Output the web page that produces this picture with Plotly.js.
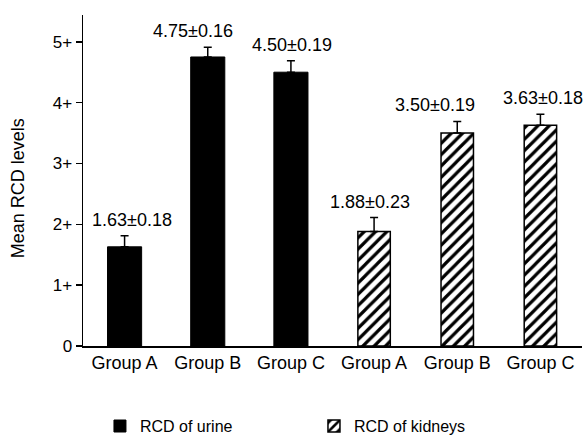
<!DOCTYPE html>
<html>
<head>
<meta charset="utf-8">
<script src="https://cdn.plot.ly/plotly-3.0.1.min.js"></script>
<style>html,body{margin:0;padding:0;background:#fff;}#chart{width:585px;height:435px;}</style>
</head>
<body>
<div id="chart"></div>
<script>
// ---- data ----
var groupLabels = ["Group A", "Group B", "Group C", "Group A", "Group B", "Group C"];
var urinePos = [0, 1, 2];
var kidneyPos = [3, 4, 5];
var urineMean = [1.63, 4.75, 4.50];
var urineSD = [0.18, 0.16, 0.19];
var kidneyMean = [1.88, 3.50, 3.63];
var kidneySD = [0.23, 0.19, 0.18];
var noLower = [0, 0, 0];
var yTickVals = [0, 1, 2, 3, 4, 5];
var yTickText = ["0", "1+", "2+", "3+", "4+", "5+"];
var seriesNames = ["RCD of urine", "RCD of kidneys"];

// ---- styling (not data) ----
var FONT = 'Arial, "Liberation Sans", sans-serif';
var labelShift = [7, -15, 1, -4.5, -22, 2.5];

var errStyle = function (arr) {
  return {type: 'data', symmetric: false, array: arr, arrayminus: noLower,
          color: '#000', thickness: 1.5, width: 4};
};

var traces = [
  {type: 'bar', name: seriesNames[0], x: urinePos, y: urineMean, width: 0.41,
   marker: {color: '#000', line: {color: '#000', width: 1}},
   error_y: errStyle(urineSD), hoverinfo: 'none'},
  {type: 'bar', name: seriesNames[1], x: kidneyPos, y: kidneyMean, width: 0.39,
   marker: {color: '#fff', line: {color: '#000', width: 1.5},
            pattern: {shape: '/', fgcolor: '#000', bgcolor: '#fff', size: 8, solidity: 0.4}},
   error_y: errStyle(kidneySD), hoverinfo: 'none'}
];

var annotations = [];
var allPos = urinePos.concat(kidneyPos);
var allMean = urineMean.concat(kidneyMean);
var allSD = urineSD.concat(kidneySD);
for (var i = 0; i < allPos.length; i++) {
  annotations.push({
    x: allPos[i], y: allMean[i] + allSD[i], xref: 'x', yref: 'y',
    text: allMean[i].toFixed(2) + '±' + allSD[i].toFixed(2),
    showarrow: false, xanchor: 'center', yanchor: 'bottom',
    xshift: labelShift[i], yshift: 4,
    font: {family: FONT, size: 18, color: '#000'}
  });
}
annotations.push({
  text: 'Mean RCD levels', textangle: -90, showarrow: false,
  xref: 'paper', yref: 'paper', x: -0.130, y: 0.477,
  xanchor: 'center', yanchor: 'middle',
  font: {family: FONT, size: 18, color: '#000'}
});

var layout = {
  width: 585, height: 435,
  margin: {l: 83, r: 3, t: 15, b: 89, autoexpand: false},
  paper_bgcolor: '#fff', plot_bgcolor: '#fff',
  font: {family: FONT, color: '#000'},
  showlegend: true,
  bargap: 0.5,
  xaxis: {
    range: [-0.5, 5.5], tickvals: allPos, ticktext: groupLabels,
    ticks: '', showgrid: false, zeroline: false,
    showline: true, linecolor: '#000', linewidth: 1.5,
    tickfont: {family: FONT, size: 18, color: '#000'},
    fixedrange: true
  },
  xaxis2: {
    overlaying: 'x', anchor: 'y', side: 'bottom',
    range: [-0.5, 5.5], tickvals: [0.5, 1.5, 2.5, 3.5, 4.5, 5.5],
    ticks: 'inside', ticklen: 4, tickwidth: 1.5, tickcolor: '#000',
    showticklabels: false, showgrid: false, zeroline: false, showline: false
  },
  yaxis: {
    range: [0, 5.44], tickvals: yTickVals, ticktext: yTickText,
    ticks: 'outside', ticklen: 6, tickwidth: 1.5, tickcolor: '#000',
    showgrid: false, zeroline: false,
    showline: true, linecolor: '#000', linewidth: 1.5,
    tickfont: {family: FONT, size: 17, color: '#000'},
    fixedrange: true
  },
  legend: {
    orientation: 'h', x: 0.034, xanchor: 'left', y: -0.242, yanchor: 'middle',
    entrywidth: 169, entrywidthmode: 'pixels',
    font: {family: FONT, size: 16, color: '#000'},
    bgcolor: 'rgba(0,0,0,0)'
  },
  annotations: annotations
};

Plotly.newPlot('chart', traces, layout, {displayModeBar: false, staticPlot: true});
</script>
</body>
</html>
